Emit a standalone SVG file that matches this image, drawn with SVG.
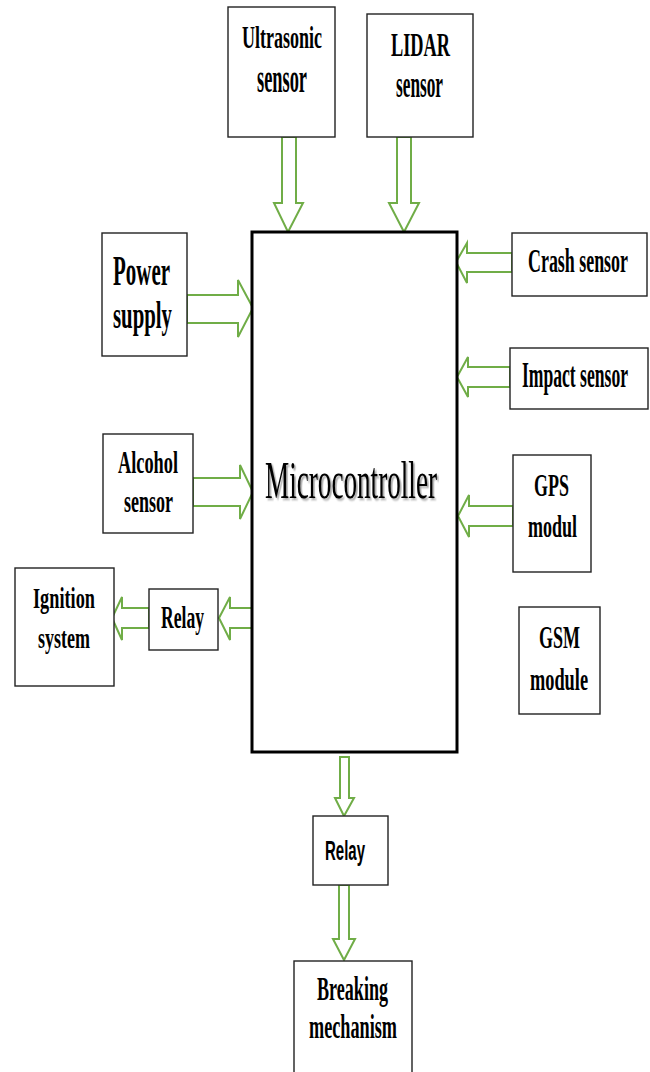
<svg xmlns="http://www.w3.org/2000/svg" width="650" height="1072" viewBox="0 0 650 1072">
<style>
.box{fill:#fff;stroke:#222;stroke-width:1.4}
.mc{fill:#fff;stroke:#000;stroke-width:3}
.arr{fill:#fff;stroke:#70AD47;stroke-width:2;stroke-linejoin:miter}
.t{font-family:"Liberation Serif","Times New Roman",serif;font-weight:bold;fill:#000}
.s{font-family:"Liberation Sans",Arial,sans-serif;font-weight:bold;fill:#000}
.m{font-family:"Liberation Serif","Times New Roman",serif;font-weight:normal;fill:#000}
</style>
<defs>
<filter id="sh" x="-10%" y="-20%" width="120%" height="140%">
<feDropShadow dx="3" dy="2" stdDeviation="1.2" flood-color="#000" flood-opacity="0.35"/>
</filter>
</defs>
<rect width="650" height="1072" fill="#fff"/>

<g id="connectors">
<polygon class="arr" points="282,137 296,137 296,203 303,203 288,232 274,203 282,203"/>
<polygon class="arr" points="397,137 411,137 411,203 419,203 404,232 389,203 397,203"/>
<polygon class="arr" points="187,295 238,295 238,280 253,308 238,337 238,323 187,323"/>
<polygon class="arr" points="512,253 467,253 467,243 456,262 467,283 467,272 512,272"/>
<polygon class="arr" points="510,367 468,367 468,357 457,377 468,397 468,387 510,387"/>
<polygon class="arr" points="193,478 240,478 240,465 253,492 240,519 240,506 193,506"/>
<polygon class="arr" points="513,506 469,506 469,495 458,516 469,537 469,526 513,526"/>
<polygon class="arr" points="252,608 230,608 230,597 219,618 230,640 230,628 252,628"/>
<polygon class="arr" points="149,608 122,608 122,597 112,618 122,640 122,628 149,628"/>
<polygon class="arr" points="340,757 349,757 349,798 354,798 344,816 335,798 340,798"/>
<polygon class="arr" points="339,885 349,885 349,939 355,939 344,960 333,939 339,939"/>
</g>

<g id="ultrasonic">
<rect class="box" x="228" y="7" width="107" height="130"/>
<text class="t" transform="translate(242,48) scale(0.55,1)" font-size="32" textLength="145.5" lengthAdjust="spacingAndGlyphs">Ultrasonic</text>
<text class="t" transform="translate(257,92) scale(0.55,1)" font-size="40" textLength="90.9" lengthAdjust="spacingAndGlyphs">sensor</text>
</g>

<g id="lidar">
<rect class="box" x="367" y="14" width="106" height="123"/>
<text class="t" transform="translate(391,56) scale(0.55,1)" font-size="34" textLength="107.3" lengthAdjust="spacingAndGlyphs">LIDAR</text>
<text class="t" transform="translate(396,97) scale(0.55,1)" font-size="38" textLength="85.5" lengthAdjust="spacingAndGlyphs">sensor</text>
</g>

<g id="microcontroller">
<rect class="mc" x="252" y="232" width="205" height="520"/>
<text class="m" transform="translate(265,498) scale(0.55,1)" font-size="52" textLength="312.7" lengthAdjust="spacingAndGlyphs" filter="url(#sh)">Microcontroller</text>
</g>

<g id="power">
<rect class="box" x="102" y="233" width="85" height="123"/>
<text class="t" transform="translate(113,285) scale(0.55,1)" font-size="42" textLength="103.6" lengthAdjust="spacingAndGlyphs">Power</text>
<text class="t" transform="translate(113,328) scale(0.55,1)" font-size="38" textLength="107.3" lengthAdjust="spacingAndGlyphs">supply</text>
</g>

<g id="crash">
<rect class="box" x="512" y="233" width="135" height="63"/>
<text class="t" transform="translate(528,272) scale(0.55,1)" font-size="33" textLength="181.8" lengthAdjust="spacingAndGlyphs">Crash sensor</text>
</g>

<g id="impact">
<rect class="box" x="510" y="348" width="138" height="61"/>
<text class="t" transform="translate(522,387) scale(0.55,1)" font-size="36" textLength="192.7" lengthAdjust="spacingAndGlyphs">Impact sensor</text>
</g>

<g id="alcohol">
<rect class="box" x="103" y="434" width="90" height="99"/>
<text class="t" transform="translate(118,473) scale(0.55,1)" font-size="32" textLength="109.1" lengthAdjust="spacingAndGlyphs">Alcohol</text>
<text class="t" transform="translate(124,512) scale(0.55,1)" font-size="31" textLength="89.1" lengthAdjust="spacingAndGlyphs">sensor</text>
</g>

<g id="gps">
<rect class="box" x="513" y="455" width="78" height="117"/>
<text class="t" transform="translate(534,496) scale(0.55,1)" font-size="32" textLength="63.6" lengthAdjust="spacingAndGlyphs">GPS</text>
<text class="t" transform="translate(528,537) scale(0.55,1)" font-size="32" textLength="89.1" lengthAdjust="spacingAndGlyphs">modul</text>
</g>

<g id="ignition">
<rect class="box" x="15" y="568" width="99" height="118"/>
<text class="t" transform="translate(33,608) scale(0.55,1)" font-size="30" textLength="112.7" lengthAdjust="spacingAndGlyphs">Ignition</text>
<text class="t" transform="translate(38,648) scale(0.55,1)" font-size="30" textLength="94.5" lengthAdjust="spacingAndGlyphs">system</text>
</g>

<g id="relay-left">
<rect class="box" x="149" y="589" width="69" height="61"/>
<text class="t" transform="translate(161,628) scale(0.55,1)" font-size="32" textLength="78.2" lengthAdjust="spacingAndGlyphs">Relay</text>
</g>

<g id="gsm">
<rect class="box" x="519" y="607" width="81" height="107"/>
<text class="t" transform="translate(539,648) scale(0.55,1)" font-size="32" textLength="74.5" lengthAdjust="spacingAndGlyphs">GSM</text>
<text class="t" transform="translate(530,690) scale(0.55,1)" font-size="32" textLength="105.5" lengthAdjust="spacingAndGlyphs">module</text>
</g>

<g id="relay-bottom">
<rect class="box" x="313" y="816" width="75" height="69"/>
<text class="s" transform="translate(325,860) scale(0.55,1)" font-size="28" textLength="72.7" lengthAdjust="spacingAndGlyphs">Relay</text>
</g>

<g id="breaking">
<rect class="box" x="294" y="961" width="118" height="120"/>
<text class="t" transform="translate(317,1000) scale(0.55,1)" font-size="33" textLength="129.1" lengthAdjust="spacingAndGlyphs">Breaking</text>
<text class="t" transform="translate(309,1038) scale(0.55,1)" font-size="34" textLength="160" lengthAdjust="spacingAndGlyphs">mechanism</text>
</g>
</svg>
